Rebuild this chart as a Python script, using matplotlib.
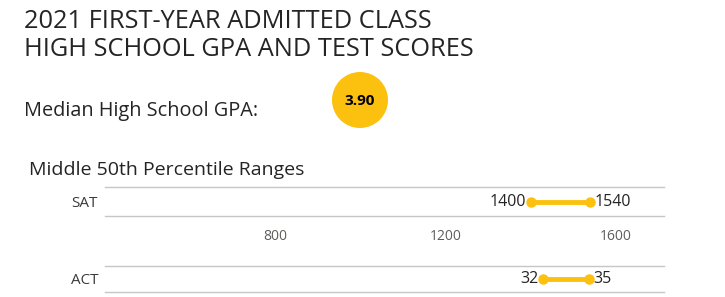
import matplotlib
matplotlib.use("Agg")
import matplotlib.pyplot as plt
from matplotlib.patches import Ellipse

plt.rcParams['font.family'] = ['Open Sans', 'DejaVu Sans']

# ---- data ----
title_lines = ["2021 FIRST-YEAR ADMITTED CLASS", "HIGH SCHOOL GPA AND TEST SCORES"]
gpa_label = "Median High School GPA:"
median_gpa = 3.90
section_title = "Middle 50th Percentile Ranges"
tests = ["SAT", "ACT"]
low_values = [1400, 32]
high_values = [1540, 35]
sat_ticks = [800, 1200, 1600]
axis_ranges = [(401, 1713), (3.4, 39.9)]

YELLOW = '#FCC00E'
DARK = '#252423'
GRID = '#C8C6C4'
TICK = '#605E5C'

W, H = 725, 297
fig = plt.figure(figsize=(W / 100, H / 100), dpi=100)
fig.patch.set_facecolor('white')

def fx(px):
    return px / W

def fy(py):
    return 1 - py / H

# titles
fig.text(fx(24), fy(22), title_lines[0], fontsize=18.3, color=DARK, va='center', ha='left')
fig.text(fx(24), fy(49), title_lines[1], fontsize=18.3, color=DARK, va='center', ha='left')
fig.text(fx(24), fy(111), gpa_label, fontsize=14.3, color=DARK, va='center', ha='left')

# GPA bubble
fig.add_artist(Ellipse((fx(360), fy(100)), 56 / W, 56 / H, transform=fig.transFigure,
                       facecolor=YELLOW, edgecolor='none'))
fig.text(fx(360), fy(101), f"{median_gpa:.2f}", fontsize=11, fontweight='bold',
         color='black', ha='center', va='center')

fig.text(fx(29), fy(170), section_title, fontsize=14, color=DARK, va='center', ha='left')

# axes positions (px): (top, bottom)
rows = [(187, 216), (266, 292)]
left_px, right_px = 105, 664

for i, test in enumerate(tests):
    top, bot = rows[i]
    ax = fig.add_axes([fx(left_px), fy(bot), (right_px - left_px) / W, (bot - top) / H])
    ax.set_xlim(*axis_ranges[i])
    ax.set_ylim(-1, 1)
    for s in ['left', 'right']:
        ax.spines[s].set_visible(False)
    for s in ['top', 'bottom']:
        ax.spines[s].set_color(GRID)
        ax.spines[s].set_linewidth(1.0)
    ax.set_yticks([0])
    ax.set_yticklabels([test], fontsize=11, color='#3B3A39')
    ax.tick_params(axis='y', length=0, pad=5)
    if i == 0:
        ax.set_xticks(sat_ticks)
        ax.set_xticklabels([str(t) for t in sat_ticks], fontsize=10, color=TICK)
        ax.tick_params(axis='x', length=0, pad=9)
    else:
        ax.set_xticks([])
    lo, hi = low_values[i], high_values[i]
    ax.plot([lo, hi], [0, 0], color=YELLOW, linewidth=3.5, solid_capstyle='round',
            marker='o', markersize=6.5, zorder=3)
    ax.annotate(str(lo), (lo, 0), xytext=(-3, 0), textcoords='offset points',
                ha='right', va='center', fontsize=11.5, color=DARK)
    ax.annotate(str(hi), (hi, 0), xytext=(3, 0), textcoords='offset points',
                ha='left', va='center', fontsize=11.5, color=DARK)
    ax.set_facecolor('none')

fig.savefig('out.png', dpi=100, facecolor='white')
